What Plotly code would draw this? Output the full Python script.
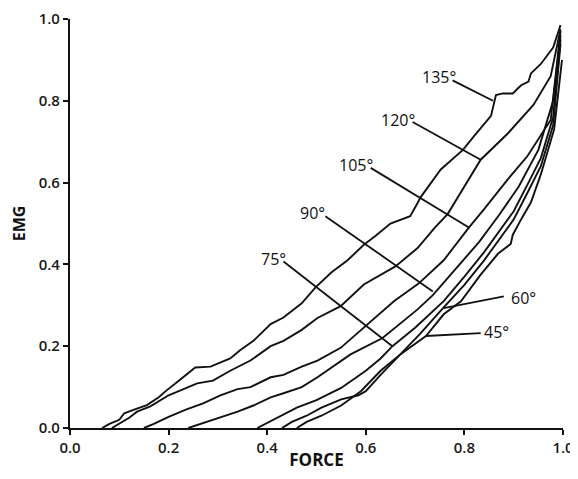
import plotly.graph_objects as go

# Curves: EMG vs FORCE for each joint angle
x135 = [0.065, 0.08, 0.10, 0.11, 0.13, 0.156, 0.18, 0.196, 0.22, 0.254, 0.285, 0.325, 0.345, 0.372, 0.407, 0.433, 0.47, 0.498, 0.53, 0.563, 0.596, 0.62, 0.65, 0.69, 0.705, 0.711, 0.752, 0.797, 0.82, 0.854, 0.864, 0.878, 0.898, 0.915, 0.93, 0.935, 0.955, 0.98, 0.995]
y135 = [0.0, 0.01, 0.02, 0.036, 0.045, 0.056, 0.075, 0.092, 0.115, 0.148, 0.15, 0.17, 0.19, 0.213, 0.254, 0.27, 0.305, 0.344, 0.38, 0.41, 0.448, 0.47, 0.5, 0.518, 0.55, 0.564, 0.632, 0.68, 0.714, 0.763, 0.814, 0.818, 0.818, 0.838, 0.847, 0.867, 0.89, 0.93, 0.985]

x120 = [0.085, 0.10, 0.108, 0.12, 0.136, 0.163, 0.20, 0.23, 0.258, 0.29, 0.325, 0.366, 0.407, 0.433, 0.47, 0.502, 0.549, 0.596, 0.63, 0.66, 0.705, 0.74, 0.766, 0.80, 0.833, 0.888, 0.94, 0.975, 0.995]
y120 = [0.0, 0.01, 0.015, 0.025, 0.04, 0.053, 0.08, 0.095, 0.109, 0.116, 0.14, 0.165, 0.2, 0.213, 0.24, 0.269, 0.298, 0.351, 0.375, 0.395, 0.44, 0.49, 0.523, 0.59, 0.656, 0.72, 0.79, 0.86, 0.975]

x105 = [0.15, 0.17, 0.20, 0.235, 0.27, 0.305, 0.34, 0.366, 0.407, 0.433, 0.47, 0.502, 0.549, 0.60, 0.657, 0.707, 0.758, 0.809, 0.84, 0.888, 0.928, 0.975, 0.995]
y105 = [0.0, 0.01, 0.027, 0.045, 0.06, 0.08, 0.095, 0.1, 0.124, 0.13, 0.15, 0.165, 0.196, 0.25, 0.31, 0.353, 0.41, 0.49, 0.535, 0.608, 0.665, 0.753, 0.97]

x90 = [0.24, 0.27, 0.305, 0.34, 0.372, 0.407, 0.433, 0.47, 0.502, 0.569, 0.634, 0.68, 0.705, 0.736, 0.78, 0.83, 0.87, 0.91, 0.95, 0.98, 0.995]
y90 = [0.0, 0.012, 0.027, 0.04, 0.055, 0.075, 0.085, 0.1, 0.124, 0.18, 0.22, 0.265, 0.29, 0.325, 0.385, 0.455, 0.52, 0.59, 0.68, 0.8, 0.96]

x75 = [0.38, 0.40, 0.43, 0.46, 0.50, 0.55, 0.60, 0.63, 0.654, 0.70, 0.758, 0.80, 0.84, 0.87, 0.90, 0.93, 0.955, 0.98, 0.995]
y75 = [0.0, 0.012, 0.03, 0.05, 0.068, 0.098, 0.14, 0.17, 0.2, 0.245, 0.31, 0.37, 0.43, 0.48, 0.53, 0.6, 0.66, 0.76, 0.95]

x60 = [0.43, 0.45, 0.48, 0.51, 0.55, 0.585, 0.60, 0.63, 0.67, 0.71, 0.758, 0.80, 0.84, 0.87, 0.90, 0.93, 0.955, 0.98, 0.995]
y60 = [0.0, 0.015, 0.03, 0.05, 0.07, 0.08, 0.09, 0.13, 0.18, 0.23, 0.295, 0.35, 0.41, 0.46, 0.51, 0.58, 0.64, 0.74, 0.94]

x45 = [0.46, 0.48, 0.51, 0.55, 0.59, 0.63, 0.67, 0.722, 0.758, 0.793, 0.833, 0.868, 0.894, 0.898, 0.915, 0.935, 0.955, 0.982, 0.998]
y45 = [0.0, 0.015, 0.03, 0.055, 0.09, 0.14, 0.18, 0.225, 0.278, 0.31, 0.375, 0.426, 0.45, 0.472, 0.51, 0.552, 0.62, 0.73, 0.9]

series_x = [x135, x120, x105, x90, x75, x60, x45]
series_y = [y135, y120, y105, y90, y75, y60, y45]

# Labels: text, label centre, leader start, leader end (on curve)
label_text = ["135°", "120°", "105°", "90°", "75°", "60°", "45°"]
label_pos = [(0.748, 0.859), (0.665, 0.753), (0.581, 0.642), (0.492, 0.525), (0.413, 0.414), (0.919, 0.317), (0.866, 0.235)]
leader_from = [(0.776, 0.85), (0.695, 0.748), (0.61, 0.636), (0.518, 0.518), (0.433, 0.407), (0.88, 0.322), (0.833, 0.232)]
leader_to = [(0.858, 0.80), (0.833, 0.656), (0.809, 0.49), (0.736, 0.334), (0.654, 0.2), (0.758, 0.293), (0.722, 0.225)]

x_ticks = [0.0, 0.2, 0.4, 0.6, 0.8, 1.0]
y_ticks = [0.0, 0.2, 0.4, 0.6, 0.8, 1.0]

FONT = "Open Sans"
INK = "#111111"

fig = go.Figure()
for xs, ys in zip(series_x, series_y):
    fig.add_trace(go.Scatter(x=xs, y=ys, mode="lines",
                             line=dict(color=INK, width=1.9),
                             showlegend=False, hoverinfo="skip"))

for (x0, y0), (x1, y1) in zip(leader_from, leader_to):
    fig.add_shape(type="line", xref="x", yref="y", x0=x0, y0=y0, x1=x1, y1=y1,
                  line=dict(color=INK, width=1.8))

for t, (lx, ly) in zip(label_text, label_pos):
    fig.add_annotation(x=lx, y=ly, xref="x", yref="y", text=t, showarrow=False,
                       font=dict(family=FONT, size=16, color=INK))

axis_common = dict(showgrid=False, zeroline=False, showline=True, linecolor=INK,
                   linewidth=2.2, ticks="outside", ticklen=5, tickwidth=2, tickcolor=INK,
                   tickfont=dict(family=FONT, size=15, color="#1a1a1a", weight=600),
                   range=[0, 1], tickformat=".1f", automargin=False,
                   ticklabeloverflow="allow")

fig.update_xaxes(**axis_common, tickvals=x_ticks,
                 title=dict(text="<b>FORCE</b>", font=dict(family=FONT, size=17, color=INK), standoff=4))
fig.update_yaxes(**axis_common, tickvals=y_ticks,
                 title=dict(text="<b>EMG</b>", font=dict(family=FONT, size=16, color=INK), standoff=12))

# page has an 8px body margin; figure sized so the page does not overflow the window
fig.update_layout(width=570, height=463, margin=dict(l=62, r=15, t=11, b=43, autoexpand=False),
                  plot_bgcolor="white", paper_bgcolor="white")

fig.write_html("out.html")
